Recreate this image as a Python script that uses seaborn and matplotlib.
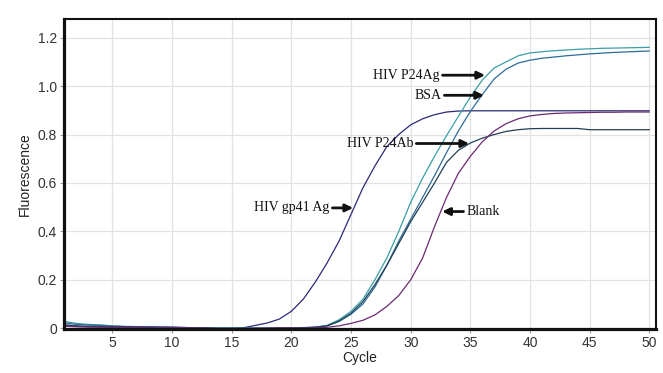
import numpy as np
import pandas as pd
import matplotlib
matplotlib.use("Agg")
import matplotlib.pyplot as plt
import seaborn as sns

cycles = list(range(1, 51))

gp41_ag = [0.012, 0.008, 0.006, 0.005, 0.005, 0.005, 0.005, 0.004, 0.004, 0.003,
           0.002, 0.001, 0.0, 0.0, 0.0, 0.002, 0.012, 0.022, 0.038, 0.07,
           0.12, 0.19, 0.27, 0.36, 0.47, 0.58, 0.67, 0.75, 0.80, 0.84,
           0.865, 0.882, 0.893, 0.897, 0.898, 0.898, 0.898, 0.898, 0.898, 0.898,
           0.898, 0.898, 0.898, 0.898, 0.898, 0.898, 0.898, 0.898, 0.898, 0.898]

p24_ag = [0.028, 0.02, 0.016, 0.014, 0.01, 0.008, 0.007, 0.006, 0.005, 0.004,
          0.003, 0.002, 0.001, 0.0, 0.0, 0.0, 0.0, 0.001, 0.001, 0.002,
          0.003, 0.005, 0.012, 0.035, 0.07, 0.12, 0.20, 0.29, 0.40, 0.52,
          0.62, 0.71, 0.795, 0.875, 0.955, 1.025, 1.075, 1.10, 1.125, 1.137,
          1.142, 1.146, 1.149, 1.152, 1.154, 1.156, 1.157, 1.158, 1.159, 1.16]

bsa = [0.022, 0.016, 0.013, 0.012, 0.009, 0.007, 0.006, 0.005, 0.004, 0.004,
       0.003, 0.002, 0.0, 0.0, 0.0, 0.0, 0.0, 0.0, 0.0, 0.001,
       0.002, 0.004, 0.01, 0.028, 0.058, 0.10, 0.17, 0.26, 0.36, 0.45,
       0.54, 0.63, 0.725, 0.815, 0.895, 0.965, 1.03, 1.07, 1.095, 1.107,
       1.115, 1.12, 1.125, 1.129, 1.133, 1.136, 1.139, 1.141, 1.143, 1.145]

p24_ab = [0.014, 0.01, 0.008, 0.007, 0.006, 0.006, 0.005, 0.005, 0.004, 0.004,
          0.003, 0.002, 0.001, 0.0, 0.0, 0.0, 0.0, 0.0, 0.001, 0.001,
          0.002, 0.004, 0.01, 0.03, 0.062, 0.11, 0.18, 0.26, 0.35, 0.44,
          0.52, 0.60, 0.685, 0.735, 0.765, 0.785, 0.80, 0.813, 0.82, 0.824,
          0.825, 0.825, 0.825, 0.825, 0.82, 0.82, 0.82, 0.82, 0.82, 0.82]

blank = [0.008, 0.006, 0.005, 0.005, 0.004, 0.004, 0.004, 0.003, 0.003, 0.003,
         0.002, 0.001, 0.0, -0.002, -0.002, -0.002, 0.0, 0.0, 0.001, 0.001,
         0.001, 0.002, 0.004, 0.01, 0.02, 0.033, 0.055, 0.09, 0.135, 0.20,
         0.29, 0.42, 0.54, 0.64, 0.71, 0.77, 0.815, 0.845, 0.865, 0.877,
         0.883, 0.887, 0.889, 0.89, 0.891, 0.892, 0.892, 0.893, 0.893, 0.893]

series_names = ["HIV gp41 Ag", "HIV P24Ag", "BSA", "HIV P24Ab", "Blank"]
series_values = [gp41_ag, p24_ag, bsa, p24_ab, blank]
series_colors = ["#2b2a78", "#3a9fa6", "#2d6c9a", "#213f57", "#6b2a72"]

x_ticks = [5, 10, 15, 20, 25, 30, 35, 40, 45, 50]
y_ticks = [0, 0.2, 0.4, 0.6, 0.8, 1.0, 1.2]
y_tick_labels = ["0", "0.2", "0.4", "0.6", "0.8", "1.0", "1.2"]

# annotation: label, arrow tip (x, y), text anchor (x, y), horizontal alignment
ann_labels = ["HIV P24Ag", "BSA", "HIV P24Ab", "HIV gp41 Ag", "Blank"]
ann_tips = [(36.24, 1.045), (36.15, 0.962), (34.9, 0.763), (25.18, 0.497), (32.64, 0.482)]
ann_text = [(32.4, 1.045), (32.55, 0.962), (30.2, 0.763), (23.17, 0.497), (34.7, 0.482)]
ann_ha = ["right", "right", "right", "right", "left"]

sns.set_theme(style="whitegrid")
plt.rcParams["font.family"] = ["Liberation Sans", "DejaVu Sans"]

df = pd.DataFrame({
    "Cycle": np.tile(cycles, len(series_names)),
    "Fluorescence": np.concatenate(series_values),
    "Series": np.repeat(series_names, len(cycles)),
})

fig = plt.figure(figsize=(6.63, 3.73), dpi=100)
ax = fig.add_axes([0.0965, 0.118, 0.893, 0.831])

sns.lineplot(data=df, x="Cycle", y="Fluorescence", hue="Series",
             hue_order=series_names, palette=series_colors,
             linewidth=0.9, legend=False, ax=ax, estimator=None)

ax.set_xlim(0.95, 50.56)
ax.set_ylim(-0.003, 1.277)
ax.set_xticks(x_ticks)
ax.set_yticks(y_ticks)
ax.set_yticklabels(y_tick_labels)
ax.grid(True, color="#e2e2e2", linewidth=0.9)
ax.tick_params(axis="both", which="major", labelsize=10, colors="#333333",
               length=3, width=0.8, direction="out", pad=2,
               bottom=True, left=True)
ax.tick_params(axis="both", colors="#999999", labelcolor="#333333")
ax.set_xlabel("Cycle", fontsize=10, color="#222222", labelpad=1)
ax.set_ylabel("Fluorescence", fontsize=10, color="#222222", labelpad=4)

for side in ["left", "bottom"]:
    ax.spines[side].set_linewidth(2.3)
    ax.spines[side].set_color("#111111")
for side in ["top", "right"]:
    ax.spines[side].set_linewidth(1.5)
    ax.spines[side].set_color("#111111")

for lab, tip, txt, ha in zip(ann_labels, ann_tips, ann_text, ann_ha):
    ax.annotate(lab, xy=tip, xytext=txt, ha=ha, va="center",
                fontsize=10, family=["Liberation Serif", "DejaVu Serif"], color="#111111",
                arrowprops=dict(arrowstyle="-|>,head_length=0.45,head_width=0.22",
                                lw=2.0, color="#111111", shrinkA=0, shrinkB=0))

fig.savefig("out.png", dpi=100)
